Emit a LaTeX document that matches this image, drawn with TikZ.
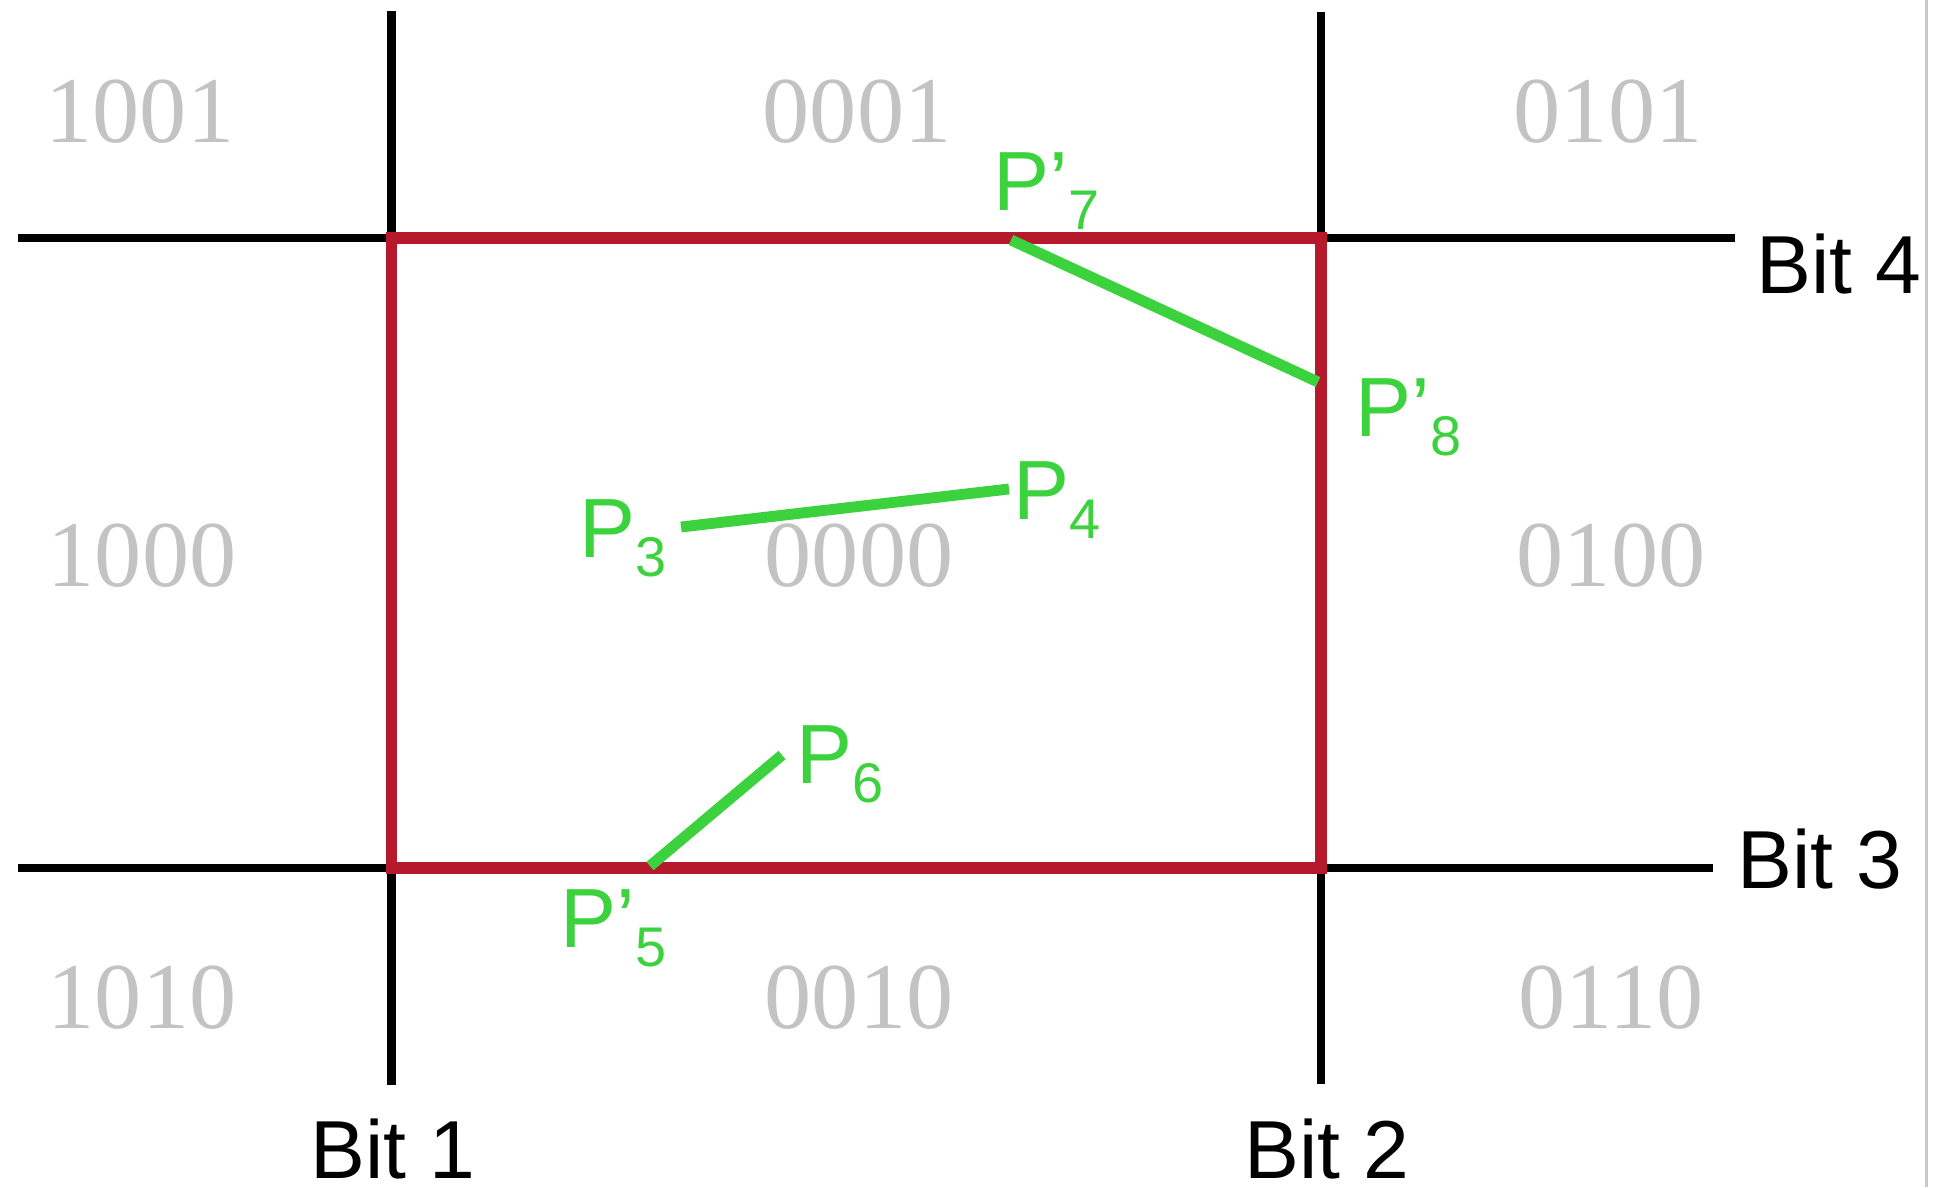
\documentclass[tikz,border=0pt]{standalone}
\usepackage{fontspec}
\setmainfont{Liberation Sans}
\newfontfamily\serifnum{Liberation Serif}
\definecolor{gridred}{RGB}{182,24,44}
\definecolor{seggreen}{RGB}{60,210,62}
\definecolor{codegray}{RGB}{195,195,195}
\definecolor{edgegray}{RGB}{200,200,200}
\newcommand\psub[1]{\raisebox{-5.4pt}{\fontsize{15.9pt}{18pt}\selectfont #1}}
\begin{document}
\begin{tikzpicture}[x=0.01cm,y=-0.01cm,
  region/.style={font=\serifnum\fontsize{26.8pt}{30pt}\selectfont, text=codegray, anchor=base, inner sep=0pt},
  bitlbl/.style={font=\fontsize{23.4pt}{28pt}\selectfont, inner sep=0pt, text depth=0pt},
  ptlbl/.style={font=\fontsize{23.9pt}{28pt}\selectfont, text=seggreen, anchor=base west, inner sep=0pt},
  axisline/.style={line width=2.3pt, black},
  boxline/.style={line width=3.4pt, gridred, line join=miter},
  segline/.style={line width=3.1pt, seggreen}]
\useasboundingbox (0,0) rectangle (1942,1187);
% right edge line
\coordinate (et) at (1926,0);
\coordinate (eb) at (1926,1187);
\draw[edgegray, line width=0.85pt] (et) -- (eb);
% region codes
\node[region] (r1001) at (140,142) {1001};
\node[region] (r0001) at (857,142) {0001};
\node[region] (r0101) at (1608,142) {0101};
\node[region] (r1000) at (142,586) {1000};
\node[region] (r0000) at (859,586) {0000};
\node[region] (r0100) at (1611,586) {0100};
\node[region] (r1010) at (142,1028) {1010};
\node[region] (r0010) at (859,1028) {0010};
\node[region] (r0110) at (1611,1028) {0110};
% axis lines
\coordinate (b1t) at (391.5,11);
\coordinate (b1b) at (391.5,1085);
\coordinate (b2t) at (1321,12);
\coordinate (b2b) at (1321,1084);
\coordinate (h4l) at (18,238);
\coordinate (h4r) at (1735,238);
\coordinate (h3l) at (18,868);
\coordinate (h3r) at (1713,868);
\draw[axisline, line width=2.7pt] (b1t) -- (b1b);
\draw[axisline, line width=2.1pt] (b2t) -- (b2b);
\draw[axisline] (h4l) -- (h4r);
\draw[axisline] (h3l) -- (h3r);
% clipping window
\coordinate (wtl) at (391.5,238);
\coordinate (wbr) at (1321,868);
\draw[boxline] (wtl) rectangle (wbr);
% segments
\coordinate (p7) at (1011,240);
\coordinate (p8) at (1318,382);
\coordinate (p3) at (681,527);
\coordinate (p4) at (1009,489);
\coordinate (p5) at (650,866);
\coordinate (p6) at (782,755);
\draw[segline] (p7) -- (p8);
\draw[segline] (p3) -- (p4);
\draw[segline] (p5) -- (p6);
% point labels
\node[ptlbl] (l7) at (993,210) {P’\psub{7}};
\node[ptlbl] (l8) at (1355,436) {P’\psub{8}};
\node[ptlbl] (l3) at (579,557) {P\psub{3}};
\node[ptlbl] (l4) at (1013,519) {P\psub{4}};
\node[ptlbl] (l6) at (796,783) {P\psub{6}};
\node[ptlbl] (l5) at (560,947) {P’\psub{5}};
% bit labels
\node[bitlbl, anchor=base] (bit1) at (393,1178) {Bit 1};
\node[bitlbl, anchor=base] (bit2) at (1327,1178) {Bit 2};
\node[bitlbl, anchor=base west] (bit4) at (1756,293) {Bit 4};
\node[bitlbl, anchor=base west] (bit3) at (1737,888) {Bit 3};
\end{tikzpicture}
\end{document}
